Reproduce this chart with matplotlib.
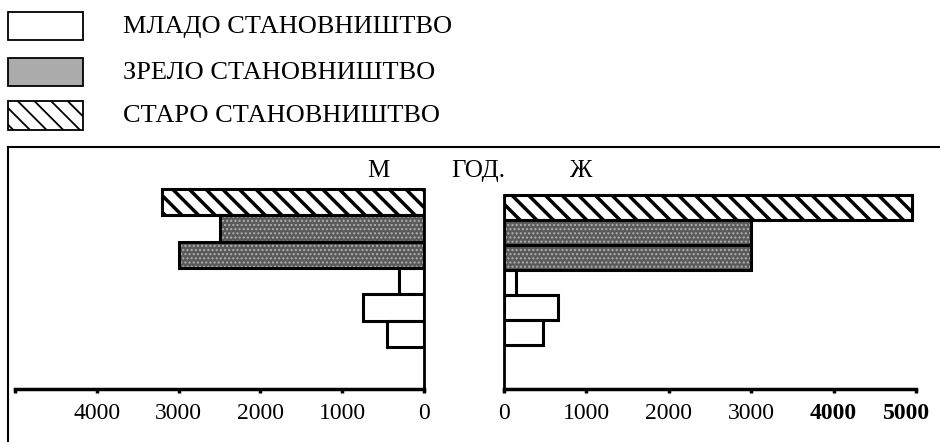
import matplotlib
matplotlib.use("Agg")
import matplotlib.pyplot as plt
import matplotlib.transforms as mtransforms
from matplotlib.patches import Rectangle
from matplotlib.lines import Line2D

plt.rcParams['font.family'] = ['Liberation Serif', 'DejaVu Serif']

# ---- data ----
series_names = ['МЛАДО СТАНОВНИШТВО', 'ЗРЕЛО СТАНОВНИШТВО', 'СТАРО СТАНОВНИШТВО']
bar_group = [2, 1, 1, 0, 0, 0]          # index into series_names, top to bottom
male = [3200, 2500, 3000, 300, 750, 450]
female = [4950, 3000, 3000, 150, 650, 470]
left_ticks = [0, 1000, 2000, 3000, 4000, 5000]
left_labels = ['0', '1000', '2000', '3000', '4000', '']
right_ticks = [0, 1000, 2000, 3000, 4000, 5000]
right_labels = ['0', '1000', '2000', '3000', '4000', '5000']
head_labels = ['М', 'ГОД.', 'Ж']

W, H = 940, 442
fig = plt.figure(figsize=(W / 100, H / 100), dpi=100)


def rect(x0, y0, x1, y1):
    return [x0 / W, 1 - y1 / H, (x1 - x0) / W, (y1 - y0) / H]


def ylims(top_px, bot_px, bar_top, bar_bot, n):
    u = (bar_bot - bar_top) / n
    return (n - 0.5 + (bot_px - bar_bot) / u, -0.5 - (bar_top - top_px) / u)


styles = [
    dict(facecolor='white', hatch=None),
    dict(facecolor='#5a5a5a', hatch=None),
    dict(facecolor='white', hatch='\\\\'),
]


def draw_bars(ax, vals):
    for i, (v, g) in enumerate(zip(vals, bar_group)):
        st = styles[g]
        if g == 1:
            sp = ax.barh(i, v, height=1.0, color=st['facecolor'], edgecolor='#b0b0b0',
                         linewidth=0, hatch='....', zorder=2)
            for p in sp:
                if hasattr(p, 'set_hatch_linewidth'):
                    p.set_hatch_linewidth(1.0)
            ax.barh(i, v, height=1.0, fill=False, edgecolor='black', linewidth=2.2, zorder=3)
        else:
            bp = ax.barh(i, v, height=1.0, color=st['facecolor'], edgecolor='black',
                         linewidth=2.2, hatch=st['hatch'], zorder=2)
            for p in bp:
                if hasattr(p, 'set_hatch_linewidth'):
                    p.set_hatch_linewidth(2.5)


top_px, bot_px = 150, 389
n = len(male)

axL = fig.add_axes(rect(15, top_px, 424, bot_px))
draw_bars(axL, male)
axL.set_xlim(5000, 0)
yl = ylims(top_px, bot_px, 189, 347, n)
axL.set_ylim(*yl)
for s in ['top', 'left']:
    axL.spines[s].set_visible(False)
axL.spines['right'].set_bounds(-0.5, yl[0])
axL.spines['right'].set_linewidth(2)
axL.spines['bottom'].set_linewidth(2.5)
axL.set_yticks([])
axL.set_xticks(left_ticks)
axL.set_xticklabels(left_labels)

axR = fig.add_axes(rect(504, top_px, 916, bot_px))
draw_bars(axR, female)
axR.set_xlim(0, 5000)
yr = ylims(top_px, bot_px, 195, 345, n)
axR.set_ylim(*yr)
for s in ['top', 'right']:
    axR.spines[s].set_visible(False)
axR.spines['left'].set_bounds(-0.5, yr[0])
axR.spines['left'].set_linewidth(2)
axR.spines['bottom'].set_linewidth(2.5)
axR.set_yticks([])
axR.set_xticks(right_ticks)
axR.set_xticklabels(right_labels)

for ax in (axL, axR):
    ax.patch.set_alpha(0)
    ax.tick_params(axis='x', direction='out', length=3, width=2.5, pad=7, labelsize=17)
rl = axR.get_xticklabels()
for lab in rl[4:]:
    lab.set_fontweight('bold')
rl[5].set_transform(rl[5].get_transform() +
                    mtransforms.ScaledTranslation(-9 / 100, 0, fig.dpi_scale_trans))

# header labels
for txt, x in zip(head_labels, [378, 478, 580]):
    fig.text(x / W, 1 - 171 / H, txt, ha='center', va='center', fontsize=18)

# frame around chart area
fig.add_artist(Line2D([8 / W, 8 / W], [1 - 147 / H, 0], color='black', lw=1.5))
fig.add_artist(Line2D([8 / W, 1], [1 - 147 / H, 1 - 147 / H], color='black', lw=1.5))

# legend
leg_rows = [(12, 40), (58, 86), (101, 130)]
leg_face = ['white', '#ababab', 'white']
leg_hatch = [None, None, '\\\\']
for name, (y0, y1), fc, hh in zip(series_names, leg_rows, leg_face, leg_hatch):
    r = Rectangle((8 / W, 1 - y1 / H), 75 / W, (y1 - y0) / H, transform=fig.transFigure,
                  facecolor=fc, edgecolor='black', linewidth=1.3, hatch=hh)
    if hasattr(r, 'set_hatch_linewidth'):
        r.set_hatch_linewidth(1.3)
    fig.add_artist(r)
    fig.text(123 / W, 1 - ((y0 + y1) / 2 + 1) / H, name, ha='left', va='center', fontsize=19)

fig.savefig('out.png', dpi=100)
